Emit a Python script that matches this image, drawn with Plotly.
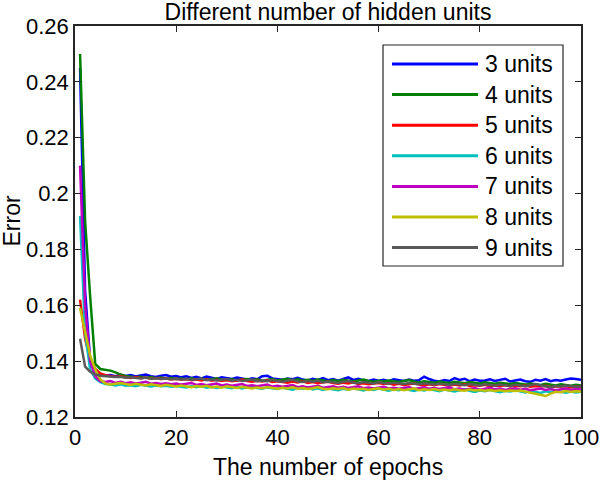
import plotly.graph_objects as go

epochs = list(range(1, 101))

units_3 = [
    0.2450, 0.1650, 0.1400, 0.1365, 0.1352, 0.1348, 0.1350, 0.1346, 0.1351, 0.1347,
    0.1350, 0.1345, 0.1349, 0.1352, 0.1346, 0.1343, 0.1348, 0.1350, 0.1344, 0.1347,
    0.1342, 0.1346, 0.1340, 0.1344, 0.1338, 0.1345, 0.1341, 0.1336, 0.1342, 0.1339,
    0.1336, 0.1341, 0.1337, 0.1334, 0.1339, 0.1335, 0.1346, 0.1348, 0.1338, 0.1336,
    0.1333, 0.1338, 0.1335, 0.1340, 0.1334, 0.1331, 0.1337, 0.1333, 0.1339, 0.1332,
    0.1336, 0.1330, 0.1335, 0.1342, 0.1333, 0.1337, 0.1331, 0.1329, 0.1334, 0.1330,
    0.1333, 0.1328, 0.1335, 0.1331, 0.1329, 0.1334, 0.1330, 0.1332, 0.1344, 0.1336,
    0.1330, 0.1327, 0.1332, 0.1329, 0.1339, 0.1333, 0.1337, 0.1328, 0.1334, 0.1330,
    0.1331, 0.1335, 0.1329, 0.1333, 0.1337, 0.1327, 0.1331, 0.1334, 0.1328, 0.1326,
    0.1333, 0.1330, 0.1336, 0.1328, 0.1332, 0.1330, 0.1334, 0.1338, 0.1336, 0.1333,
]
units_4 = [
    0.2500, 0.1900, 0.1630, 0.1390, 0.1372, 0.1370, 0.1366, 0.1360, 0.1352, 0.1347,
    0.1345, 0.1342, 0.1344, 0.1340, 0.1343, 0.1339, 0.1341, 0.1337, 0.1340, 0.1336,
    0.1338, 0.1335, 0.1339, 0.1334, 0.1337, 0.1333, 0.1336, 0.1338, 0.1334, 0.1332,
    0.1335, 0.1331, 0.1334, 0.1336, 0.1332, 0.1335, 0.1330, 0.1333, 0.1336, 0.1331,
    0.1334, 0.1337, 0.1332, 0.1335, 0.1330, 0.1333, 0.1329, 0.1334, 0.1331, 0.1328,
    0.1332, 0.1329, 0.1333, 0.1330, 0.1327, 0.1331, 0.1334, 0.1329, 0.1326, 0.1330,
    0.1327, 0.1331, 0.1328, 0.1325, 0.1329, 0.1332, 0.1327, 0.1324, 0.1328, 0.1326,
    0.1323, 0.1327, 0.1325, 0.1322, 0.1326, 0.1324, 0.1321, 0.1325, 0.1322, 0.1320,
    0.1324, 0.1321, 0.1319, 0.1323, 0.1320, 0.1318, 0.1322, 0.1319, 0.1316, 0.1320,
    0.1317, 0.1315, 0.1319, 0.1316, 0.1313, 0.1317, 0.1314, 0.1312, 0.1315, 0.1313,
]
units_5 = [
    0.1620, 0.1480, 0.1405, 0.1372, 0.1356, 0.1350, 0.1347, 0.1344, 0.1346, 0.1342,
    0.1340, 0.1343, 0.1339, 0.1341, 0.1337, 0.1340, 0.1336, 0.1338, 0.1334, 0.1337,
    0.1333, 0.1336, 0.1332, 0.1334, 0.1331, 0.1335, 0.1330, 0.1333, 0.1329, 0.1332,
    0.1328, 0.1331, 0.1334, 0.1329, 0.1326, 0.1330, 0.1327, 0.1331, 0.1325, 0.1328,
    0.1326, 0.1323, 0.1327, 0.1324, 0.1328, 0.1322, 0.1325, 0.1321, 0.1324, 0.1326,
    0.1322, 0.1319, 0.1323, 0.1320, 0.1324, 0.1318, 0.1321, 0.1317, 0.1320, 0.1322,
    0.1318, 0.1321, 0.1316, 0.1319, 0.1315, 0.1318, 0.1320, 0.1316, 0.1313, 0.1317,
    0.1314, 0.1318, 0.1315, 0.1312, 0.1316, 0.1313, 0.1317, 0.1311, 0.1314, 0.1312,
    0.1315, 0.1310, 0.1313, 0.1311, 0.1314, 0.1309, 0.1312, 0.1310, 0.1313, 0.1308,
    0.1311, 0.1309, 0.1312, 0.1307, 0.1310, 0.1308, 0.1311, 0.1306, 0.1309, 0.1307,
]
units_6 = [
    0.1920, 0.1500, 0.1370, 0.1338, 0.1325, 0.1318, 0.1316, 0.1313, 0.1317, 0.1312,
    0.1314, 0.1310, 0.1315, 0.1311, 0.1309, 0.1313, 0.1310, 0.1312, 0.1308, 0.1311,
    0.1309, 0.1306, 0.1310, 0.1307, 0.1311, 0.1305, 0.1308, 0.1304, 0.1309, 0.1306,
    0.1303, 0.1307, 0.1302, 0.1306, 0.1309, 0.1304, 0.1301, 0.1306, 0.1303, 0.1300,
    0.1305, 0.1302, 0.1298, 0.1304, 0.1301, 0.1306, 0.1299, 0.1303, 0.1297, 0.1302,
    0.1300, 0.1296, 0.1301, 0.1298, 0.1303, 0.1299, 0.1295, 0.1300, 0.1297, 0.1302,
    0.1298, 0.1294, 0.1299, 0.1296, 0.1301, 0.1297, 0.1293, 0.1298, 0.1295, 0.1300,
    0.1297, 0.1292, 0.1298, 0.1295, 0.1291, 0.1296, 0.1299, 0.1294, 0.1290, 0.1295,
    0.1292, 0.1297, 0.1293, 0.1289, 0.1294, 0.1291, 0.1296, 0.1292, 0.1288, 0.1293,
    0.1290, 0.1286, 0.1292, 0.1289, 0.1294, 0.1290, 0.1287, 0.1291, 0.1288, 0.1290,
]
units_7 = [
    0.2100, 0.1600, 0.1400, 0.1345, 0.1328, 0.1325, 0.1329, 0.1322, 0.1326, 0.1321,
    0.1324, 0.1320, 0.1323, 0.1326, 0.1319, 0.1322, 0.1318, 0.1321, 0.1317, 0.1320,
    0.1316, 0.1319, 0.1322, 0.1315, 0.1318, 0.1314, 0.1317, 0.1320, 0.1313, 0.1316,
    0.1312, 0.1315, 0.1318, 0.1311, 0.1314, 0.1310, 0.1313, 0.1316, 0.1309, 0.1312,
    0.1308, 0.1311, 0.1314, 0.1307, 0.1310, 0.1306, 0.1309, 0.1312, 0.1305, 0.1308,
    0.1310, 0.1305, 0.1308, 0.1304, 0.1307, 0.1310, 0.1303, 0.1306, 0.1302, 0.1305,
    0.1308, 0.1302, 0.1305, 0.1301, 0.1304, 0.1307, 0.1300, 0.1303, 0.1306, 0.1301,
    0.1304, 0.1300, 0.1303, 0.1306, 0.1299, 0.1302, 0.1298, 0.1301, 0.1304, 0.1298,
    0.1301, 0.1305, 0.1299, 0.1302, 0.1297, 0.1300, 0.1303, 0.1298, 0.1301, 0.1296,
    0.1299, 0.1302, 0.1297, 0.1300, 0.1296, 0.1299, 0.1302, 0.1297, 0.1300, 0.1298,
]
units_8 = [
    0.1590, 0.1500, 0.1420, 0.1370, 0.1335, 0.1320, 0.1316, 0.1319, 0.1322, 0.1318,
    0.1315, 0.1319, 0.1316, 0.1313, 0.1317, 0.1314, 0.1311, 0.1315, 0.1312, 0.1309,
    0.1313, 0.1310, 0.1307, 0.1311, 0.1308, 0.1312, 0.1306, 0.1309, 0.1305, 0.1310,
    0.1307, 0.1304, 0.1308, 0.1305, 0.1302, 0.1306, 0.1303, 0.1307, 0.1304, 0.1301,
    0.1305, 0.1302, 0.1306, 0.1301, 0.1304, 0.1300, 0.1303, 0.1307, 0.1301, 0.1299,
    0.1303, 0.1300, 0.1304, 0.1298, 0.1302, 0.1299, 0.1301, 0.1297, 0.1300, 0.1303,
    0.1298, 0.1301, 0.1297, 0.1300, 0.1296, 0.1299, 0.1302, 0.1296, 0.1299, 0.1297,
    0.1300, 0.1296, 0.1298, 0.1295, 0.1299, 0.1296, 0.1294, 0.1298, 0.1295, 0.1297,
    0.1294, 0.1297, 0.1293, 0.1296, 0.1292, 0.1295, 0.1293, 0.1295, 0.1291, 0.1287,
    0.1283, 0.1279, 0.1275, 0.1284, 0.1290, 0.1289, 0.1293, 0.1290, 0.1292, 0.1291,
]
units_9 = [
    0.1480, 0.1380, 0.1362, 0.1352, 0.1348, 0.1346, 0.1345, 0.1343, 0.1344, 0.1341,
    0.1342, 0.1340, 0.1338, 0.1341, 0.1337, 0.1339, 0.1336, 0.1338, 0.1335, 0.1337,
    0.1334, 0.1336, 0.1333, 0.1335, 0.1338, 0.1332, 0.1334, 0.1331, 0.1333, 0.1336,
    0.1330, 0.1333, 0.1329, 0.1332, 0.1334, 0.1328, 0.1331, 0.1328, 0.1332, 0.1329,
    0.1326, 0.1330, 0.1333, 0.1327, 0.1325, 0.1329, 0.1326, 0.1330, 0.1324, 0.1327,
    0.1325, 0.1322, 0.1326, 0.1329, 0.1323, 0.1321, 0.1325, 0.1322, 0.1320, 0.1324,
    0.1321, 0.1319, 0.1323, 0.1320, 0.1318, 0.1322, 0.1319, 0.1317, 0.1321, 0.1318,
    0.1316, 0.1320, 0.1317, 0.1315, 0.1319, 0.1316, 0.1314, 0.1318, 0.1315, 0.1313,
    0.1317, 0.1314, 0.1312, 0.1316, 0.1313, 0.1311, 0.1315, 0.1312, 0.1310, 0.1314,
    0.1318, 0.1313, 0.1310, 0.1307, 0.1311, 0.1309, 0.1313, 0.1310, 0.1308, 0.1309,
]

series_names = ["3 units", "4 units", "5 units", "6 units", "7 units", "8 units", "9 units"]
series_values = [units_3, units_4, units_5, units_6, units_7, units_8, units_9]
colors = ["#0000ff", "#008000", "#ff0000", "#00bfbf", "#bf00bf", "#bfbf00", "#595959"]

x_ticks = [0, 20, 40, 60, 80, 100]
y_ticks = [0.12, 0.14, 0.16, 0.18, 0.20, 0.22, 0.24, 0.26]
y_tick_labels = ["0.12", "0.14", "0.16", "0.18", "0.2", "0.22", "0.24", "0.26"]

font = "Liberation Sans, Arial, sans-serif"
ink = "#262626"
fsize = 23

fig = go.Figure()
for name, vals, col in zip(series_names, series_values, colors):
    fig.add_trace(go.Scatter(x=epochs, y=vals, mode="lines", name=name,
                             line=dict(color=col, width=2.5), showlegend=False))

# plot area in pixels: x 75..581, y 26..417
L, R, T, B = 75, 581, 26, 417
def px_x(p):
    return (p - L) / (R - L)
def px_y(p):
    return (B - p) / (B - T)

# legend drawn by hand so the sample lines are as long as in the original
shapes = [dict(type="rect", xref="paper", yref="paper",
               x0=px_x(383), x1=px_x(563), y0=px_y(266), y1=px_y(45),
               line=dict(color=ink, width=1.2), fillcolor="white", layer="above")]
annotations = []
for i, (name, col) in enumerate(zip(series_names, colors)):
    yy = px_y(64 + i * 30.6)
    shapes.append(dict(type="line", xref="paper", yref="paper",
                       x0=px_x(392), x1=px_x(478), y0=yy, y1=yy,
                       line=dict(color=col, width=3), layer="above"))
    annotations.append(dict(xref="paper", yref="paper", x=px_x(483), y=yy,
                            text=name, showarrow=False, xanchor="left", yanchor="middle",
                            font=dict(size=fsize, color="black")))

# axis titles
annotations.append(dict(xref="paper", yref="paper", x=0.5, y=px_y(467),
                        text="The number of epochs", showarrow=False,
                        xanchor="center", yanchor="middle",
                        font=dict(size=fsize, color="black")))
annotations.append(dict(xref="paper", yref="paper", x=px_x(11), y=0.5,
                        text="Error", showarrow=False, textangle=-90,
                        xanchor="center", yanchor="middle",
                        font=dict(size=fsize, color="black")))

fig.update_layout(
    width=600, height=481,
    margin=dict(l=L, r=600 - R, t=T, b=481 - B),
    paper_bgcolor="white", plot_bgcolor="white",
    font=dict(family=font, size=fsize, color=ink),
    title=dict(text="Different number of hidden units", x=0.5, xref="paper",
               xanchor="center", y=1 - 12 / 481, yanchor="middle", yref="container",
               font=dict(size=fsize, color="black")),
    shapes=shapes, annotations=annotations,
)
fig.update_xaxes(range=[0, 100], tickvals=x_ticks, ticks="inside", ticklen=6,
                 tickcolor=ink, showline=True, linecolor=ink, linewidth=1.5,
                 mirror="ticks", showgrid=False, zeroline=False, automargin=False,
                 ticklabeloverflow="allow", tickfont=dict(color="black", size=22))
fig.update_yaxes(range=[0.12, 0.26], tickvals=y_ticks, ticktext=y_tick_labels,
                 ticks="inside", ticklen=6, tickcolor=ink, showline=True,
                 linecolor=ink, linewidth=1.5, mirror="ticks", showgrid=False,
                 zeroline=False, automargin=False, ticklabeloverflow="allow",
                 tickfont=dict(color="black", size=22))

# the page body has a default 8px margin; drop it so the figure fills the window
fig.write_html("out.html", config={"displayModeBar": False},
               post_script="document.body.style.margin = '0';")
